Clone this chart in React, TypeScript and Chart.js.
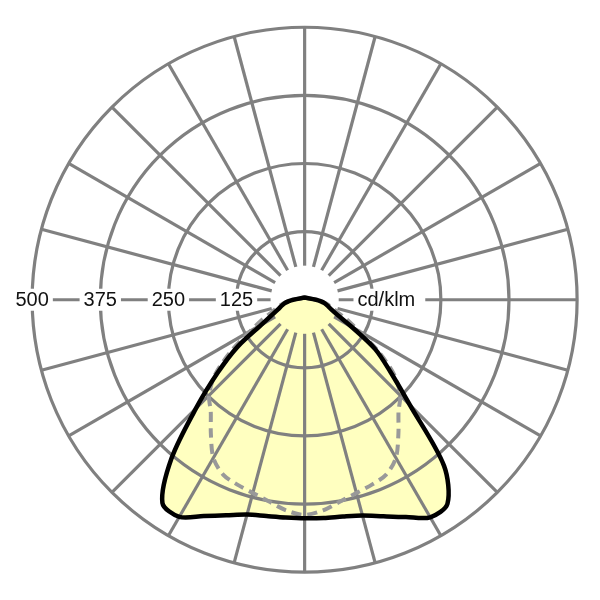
import { useEffect, useRef } from 'react';
import Chart from 'chart.js/auto';

// gamma angle from nadir (0°) to horizontal (90°) and zenith (180°)
const GAMMA = [0, 5, 10, 15, 20, 25, 30, 35, 40, 45, 50, 55, 60, 65, 70, 75, 80, 85, 90, 180];
// C0-C180 plane (solid curve), cd/klm
const C0 = [401, 402, 404, 410, 423, 440, 461, 457, 398, 273, 205, 158, 100, 67, 52, 44, 37, 29, 21, 4];
const C180 = [401, 401, 403, 408, 421, 438, 460, 455, 380, 282, 208, 150, 92, 66, 52, 44, 37, 29, 21, 4];
// C90-C270 plane (dashed curve), symmetric
const C90 = [395, 388, 376, 367, 361, 354, 335, 300, 268, 248, 215, 165, 115, 85, 62, 50, 40, 30, 22, 4];

const RINGS = [125, 250, 375, 500];
const RING_LABELS = ['125', '250', '375', '500'];
const UNIT = 'cd/klm';
const UNIT_AT = 150;
const SPOKE_STEP = 15;
const SPOKE_START = 62.5;

const GRID_COLOR = '#808080';
const FILL_COLOR = '#FFFFC0';
const FONT = '20px "Liberation Sans", Arial, sans-serif';

const toRad = (d: number) => (d * Math.PI) / 180;

const halfPlane = (values: number[], side: number) =>
  values.map((v, i) => ({
    x: side * v * Math.sin(toRad(GAMMA[i])),
    y: -v * Math.cos(toRad(GAMMA[i])),
  }));

// left half from zenith down to nadir, then right half back up
const plane = (left: number[], right: number[]) => [
  ...halfPlane(left, -1).reverse(),
  ...halfPlane(right, 1).slice(1),
];

const polarGrid = {
  id: 'polarGrid',
  beforeDatasetsDraw(chart: any) {
    const { ctx, scales } = chart;
    const xs = scales.x;
    const ys = scales.y;
    const cx = xs.getPixelForValue(0);
    const cy = ys.getPixelForValue(0);
    const rad = (v: number) => xs.getPixelForValue(v) - cx;

    ctx.save();

    // yellow area under the grid
    const line = chart.getDatasetMeta(0).dataset;
    if (line) {
      line.updateControlPoints(chart.chartArea, 'x');
      ctx.beginPath();
      line.path(ctx);
      ctx.closePath();
      ctx.fillStyle = FILL_COLOR;
      ctx.fill();
    }

    ctx.strokeStyle = GRID_COLOR;
    ctx.lineWidth = 3.2;
    RINGS.forEach((v) => {
      ctx.beginPath();
      ctx.arc(cx, cy, rad(v), 0, Math.PI * 2);
      ctx.stroke();
    });
    const r0 = rad(SPOKE_START);
    const r1 = rad(RINGS[RINGS.length - 1]);
    for (let a = 0; a < 360; a += SPOKE_STEP) {
      const c = Math.cos(toRad(a));
      const s = Math.sin(toRad(a));
      ctx.beginPath();
      ctx.moveTo(cx + r0 * c, cy + r0 * s);
      ctx.lineTo(cx + r1 * c, cy + r1 * s);
      ctx.stroke();
    }

    ctx.font = FONT;
    ctx.textBaseline = 'middle';
    ctx.textAlign = 'center';
    RING_LABELS.forEach((label, i) => {
      const x = cx - rad(RINGS[i]);
      const w = ctx.measureText(label).width;
      ctx.fillStyle = '#fff';
      ctx.fillRect(x - w / 2 - 4, cy - 11, w + 8, 22);
      ctx.fillStyle = '#111';
      ctx.fillText(label, x, cy + 1);
    });
    const ux = cx + rad(UNIT_AT);
    const uw = ctx.measureText(UNIT).width;
    ctx.fillStyle = '#fff';
    ctx.fillRect(ux - uw / 2 - 4, cy - 11, uw + 14, 22);
    ctx.fillStyle = '#111';
    ctx.fillText(UNIT, ux, cy + 1);

    ctx.restore();
  },
};

const App = () => {
  const chartRef = useRef<HTMLCanvasElement | null>(null);
  const chartInstance = useRef<Chart | null>(null);

  useEffect(() => {
    if (!chartRef.current) return;
    if (chartInstance.current) chartInstance.current.destroy();

    chartInstance.current = new Chart(chartRef.current, {
      type: 'line',
      data: {
        datasets: [
          {
            label: 'C0 - C180',
            data: plane(C180, C0),
            borderColor: '#000',
            borderWidth: 4.5,
            borderJoinStyle: 'round',
            borderCapStyle: 'round',
            tension: 0.3,
            pointRadius: 0,
            fill: false,
          },
          {
            label: 'C90 - C270',
            data: plane(C90, C90),
            borderColor: '#999999',
            borderWidth: 4,
            borderDash: [10, 6],
            tension: 0.3,
            pointRadius: 0,
            fill: false,
          },
        ],
      },
      options: {
        animation: false,
        responsive: true,
        maintainAspectRatio: false,
        events: [],
        layout: { padding: 0 },
        scales: {
          x: { type: 'linear', display: false, min: -559, max: 542 },
          y: { type: 'linear', display: false, min: -551, max: 550 },
        },
        plugins: {
          legend: { display: false },
          tooltip: { enabled: false },
        },
      },
      plugins: [polarGrid],
    });

    return () => {
      if (chartInstance.current) {
        chartInstance.current.destroy();
        chartInstance.current = null;
      }
    };
  }, []);

  return (
    <div style={{ position: 'fixed', left: 0, top: 0, width: 600, height: 600, background: '#fff' }}>
      <canvas ref={chartRef}></canvas>
    </div>
  );
};

export default App;
